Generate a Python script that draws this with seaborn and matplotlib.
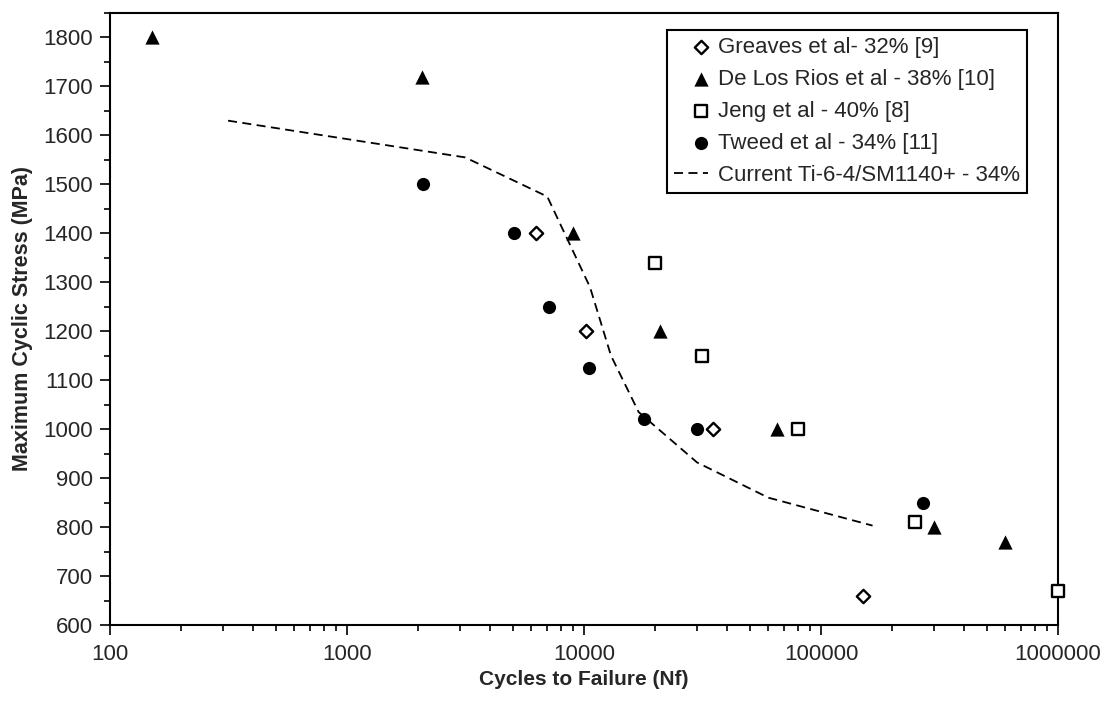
import numpy as np
import pandas as pd
import seaborn as sns
import matplotlib
import matplotlib.pyplot as plt
from matplotlib.ticker import LogLocator, FuncFormatter, MultipleLocator, NullFormatter
from matplotlib.legend_handler import HandlerPathCollection

matplotlib.use('Agg')

# data (cycles to failure, max cyclic stress in MPa)
greaves_n = [6300, 10200, 35000, 150000]
greaves_s = [1400, 1200, 1000, 660]
rios_n = [150, 2070, 9000, 21000, 65000, 300000, 600000]
rios_s = [1800, 1720, 1400, 1200, 1000, 800, 770]
jeng_n = [20000, 31500, 80000, 250000, 1000000]
jeng_s = [1340, 1150, 1000, 810, 670]
tweed_n = [2090, 5070, 7100, 10500, 18000, 30000, 270000]
tweed_s = [1500, 1400, 1250, 1125, 1020, 1000, 850]
current_n = [315, 3150, 7000, 10600, 13000, 17000, 30000, 60000, 165000]
current_s = [1630, 1555, 1475, 1290, 1150, 1035, 932, 860, 803]

labels = ['Greaves et al- 32% [9]', 'De Los Rios et al - 38% [10]',
          'Jeng et al - 40% [8]', 'Tweed et al - 34% [11]',
          'Current Ti-6-4/SM1140+ - 34%']


# legend markers sit at the right end of the handle, next to the text
class RightMarker(HandlerPathCollection):
    def get_xdata(self, legend, xdescent, ydescent, width, height, fontsize):
        x = -xdescent + width - 0.3 * fontsize
        return [x], [x]


sns.set_style('ticks')
plt.rcParams['font.family'] = ['Liberation Sans', 'DejaVu Sans']
plt.rcParams['font.size'] = 16

fig = plt.figure(figsize=(11.05, 7.06), dpi=100)
ax = fig.add_axes([0.0995, 0.1147, 0.858, 0.867])

sns.scatterplot(x=greaves_n, y=greaves_s, ax=ax, marker='D', s=46, color='white',
                edgecolor='black', linewidth=1.7, label=labels[0], zorder=3, clip_on=False)
sns.scatterplot(x=rios_n, y=rios_s, ax=ax, marker='^', s=105, color='black',
                edgecolor='black', linewidth=0, label=labels[1], zorder=3, clip_on=False)
sns.scatterplot(x=jeng_n, y=jeng_s, ax=ax, marker='s', s=78, color='white',
                edgecolor='black', linewidth=1.7, label=labels[2], zorder=3, clip_on=False)
sns.scatterplot(x=tweed_n, y=tweed_s, ax=ax, marker='o', s=90, color='black',
                edgecolor='black', linewidth=0, label=labels[3], zorder=3, clip_on=False)
sns.lineplot(x=current_n, y=current_s, ax=ax, color='black', lw=1.3,
             ls=(0, (5, 3)), sort=False, label=labels[4], zorder=2)

ax.set_xscale('log')
ax.set_xlim(100, 1e6)
ax.set_ylim(600, 1850)

ax.xaxis.set_major_locator(LogLocator(base=10, numticks=10))
ax.xaxis.set_minor_locator(LogLocator(base=10, subs=np.arange(2, 10), numticks=20))
ax.xaxis.set_major_formatter(FuncFormatter(lambda v, p: '%d' % round(v)))
ax.xaxis.set_minor_formatter(NullFormatter())
ax.yaxis.set_major_locator(MultipleLocator(100))
ax.yaxis.set_minor_locator(MultipleLocator(50))

ax.tick_params(axis='both', which='major', direction='out', length=7, width=1.2,
               labelsize=16, color='black')
ax.tick_params(axis='both', which='minor', direction='out', length=4, width=1.2,
               color='black')
ax.tick_params(axis='x', which='major', pad=7)
ax.tick_params(axis='y', which='major', pad=5)

for sp in ax.spines.values():
    sp.set_visible(True)
    sp.set_linewidth(1.5)
    sp.set_color('black')

ax.set_xlabel('Cycles to Failure (Nf)', fontsize=15, fontweight='bold', labelpad=3)
ax.set_ylabel('Maximum Cyclic Stress (MPa)', fontsize=15.5, fontweight='bold', labelpad=8)

handles, texts = ax.get_legend_handles_labels()
hmap = {h: RightMarker() for h in handles[:4]}
leg = ax.legend(handles, texts, handler_map=hmap,
                loc='upper left', bbox_to_anchor=(0.5876, 0.972), borderaxespad=0,
                frameon=True, fancybox=False, edgecolor='black', framealpha=1,
                fontsize=16, handlelength=1.55, handletextpad=0.45, labelspacing=0.5,
                borderpad=0.3, scatterpoints=1)
leg.get_frame().set_linewidth(1.5)

fig.savefig('out.png', dpi=100)
